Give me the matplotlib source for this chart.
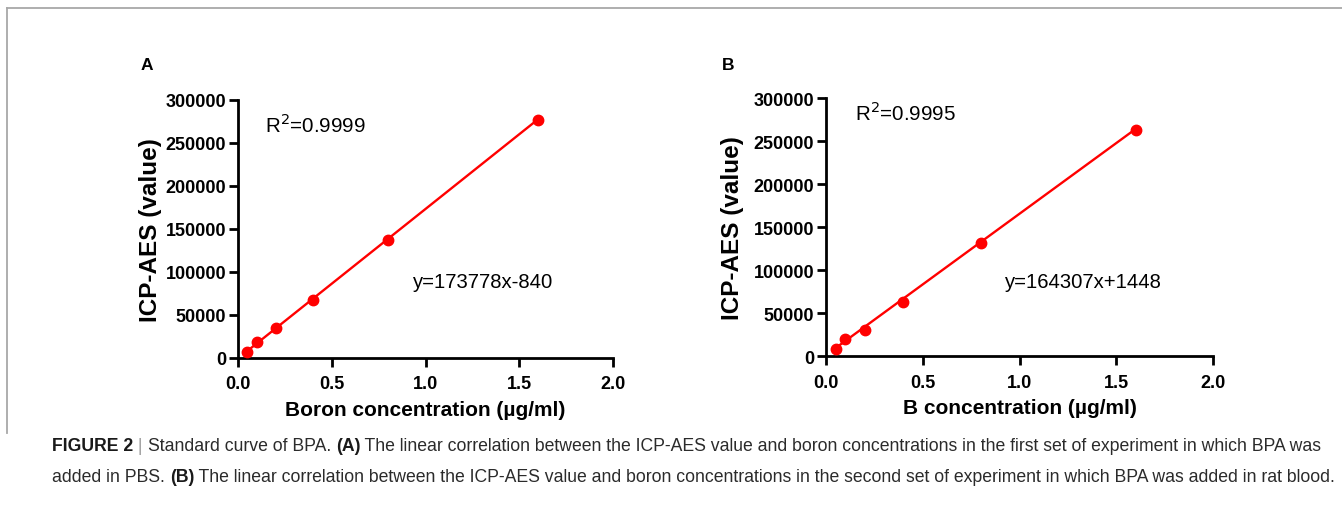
import numpy as np
import matplotlib
matplotlib.use("Agg")
import matplotlib.pyplot as plt
from matplotlib.lines import Line2D

plt.rcParams['font.family'] = ['Liberation Sans', 'DejaVu Sans']

# ---- data ----
conc = [0.05, 0.1, 0.2, 0.4, 0.8, 1.6]
icp_a = [7000, 18000, 34000, 67000, 137000, 276500]
icp_b = [8500, 20000, 31000, 63000, 132000, 263000]
fit_a = (173778, -840)
fit_b = (164307, 1448)
r2_a = "0.9999"
r2_b = "0.9995"
xlabel_a = "Boron concentration (µg/ml)"
xlabel_b = "B concentration (µg/ml)"
ylabel = "ICP-AES (value)"
xticks = [0.0, 0.5, 1.0, 1.5, 2.0]
yticks = [0, 50000, 100000, 150000, 200000, 250000, 300000]

W, H = 1342, 510
fig = plt.figure(figsize=(W / 100, H / 100), dpi=100)


def fx(px):
    return px / W


def fy(py):
    return 1 - py / H


def panel(rect, x, y, fit, r2, xlabel, letter, letter_pos, r2_pos, eq_pos, ylab_x, xlab_y):
    l, t, r, b = rect
    ax = fig.add_axes([fx(l), fy(b), fx(r) - fx(l), fy(t) - fy(b)])
    xs = np.array([min(x), max(x)])
    ax.plot(xs, fit[0] * xs + fit[1], color='#ff0000', lw=1.7, zorder=2)
    ax.plot(x, y, 'o', color='#ff0000', ms=7.5, zorder=3)
    ax.set_xlim(0, 2.0)
    ax.set_ylim(0, 300000)
    ax.set_xticks(xticks)
    ax.set_xticklabels([f"{v:.1f}" for v in xticks])
    ax.set_yticks(yticks)
    ax.set_yticklabels([str(v) for v in yticks])
    for s in ['top', 'right']:
        ax.spines[s].set_visible(False)
    for s in ['left', 'bottom']:
        ax.spines[s].set_linewidth(2)
        ax.spines[s].set_color('black')
    ax.tick_params(direction='out', length=6.5, width=2, labelsize=13)
    ax.tick_params(axis='x', pad=6)
    ax.tick_params(axis='y', pad=2)
    for lab in ax.get_xticklabels() + ax.get_yticklabels():
        lab.set_fontweight('bold')
    ax.patch.set_visible(False)
    fig.text(fx(ylab_x), fy((t + b) / 2), ylabel, rotation=90, ha='center', va='center',
             fontsize=17.5, fontweight='bold')
    fig.text(fx((l + r) / 2), fy(xlab_y), xlabel, ha='center', va='center',
             fontsize=15, fontweight='bold')
    fig.text(fx(r2_pos[0]), fy(r2_pos[1]), f"R$^2$={r2}", ha='left', va='center', fontsize=14.8)
    sign = '-' if fit[1] < 0 else '+'
    fig.text(fx(eq_pos[0]), fy(eq_pos[1]), f"y={fit[0]}x{sign}{abs(fit[1])}",
             ha='left', va='center', fontsize=14.6)
    fig.text(fx(letter_pos[0]), fy(letter_pos[1]), letter, ha='center', va='center',
             fontsize=12.5, fontweight='bold')
    return ax


panel((238, 100.7, 613, 358.7), conc, icp_a, fit_a, r2_a, xlabel_a, 'A', (147, 66),
      (265, 125), (413, 283), 150, 410)
panel((826, 99.3, 1213, 357.3), conc, icp_b, fit_b, r2_b, xlabel_b, 'B', (728, 66),
      (855, 113), (1005, 282), 733, 408)

# frame
fig.add_artist(Line2D([fx(7), fx(1342)], [fy(9), fy(9)], color='#a8a8a8', lw=1.3))
fig.add_artist(Line2D([fx(7), fx(7)], [fy(9), fy(434)], color='#a8a8a8', lw=1.3))

# caption
fig.canvas.draw()
renderer = fig.canvas.get_renderer()
cap_col = '#2b2b2b'


def caption_line(parts, x0, ypx):
    x = fx(x0)
    for txt, weight, col in parts:
        t = fig.text(x, fy(ypx), txt, ha='left', va='center', fontsize=12.7,
                     fontweight=weight, color=col)
        bb = t.get_window_extent(renderer)
        x += bb.width / W


line1 = [("FIGURE 2", 'bold', '#1a1a1a'), (" | ", 'normal', '#999999'),
         ("Standard curve of BPA. ", 'normal', cap_col), ("(A)", 'bold', '#1a1a1a'),
         (" The linear correlation between the ICP-AES value and boron concentrations in the first set of experiment in which BPA was",
          'normal', cap_col)]
line2 = [("added in PBS. ", 'normal', cap_col), ("(B)", 'bold', '#1a1a1a'),
         (" The linear correlation between the ICP-AES value and boron concentrations in the second set of experiment in which BPA was added in rat blood.",
          'normal', cap_col)]
caption_line(line1, 52, 447)
caption_line(line2, 52, 478)

fig.savefig("out.png", dpi=100)
